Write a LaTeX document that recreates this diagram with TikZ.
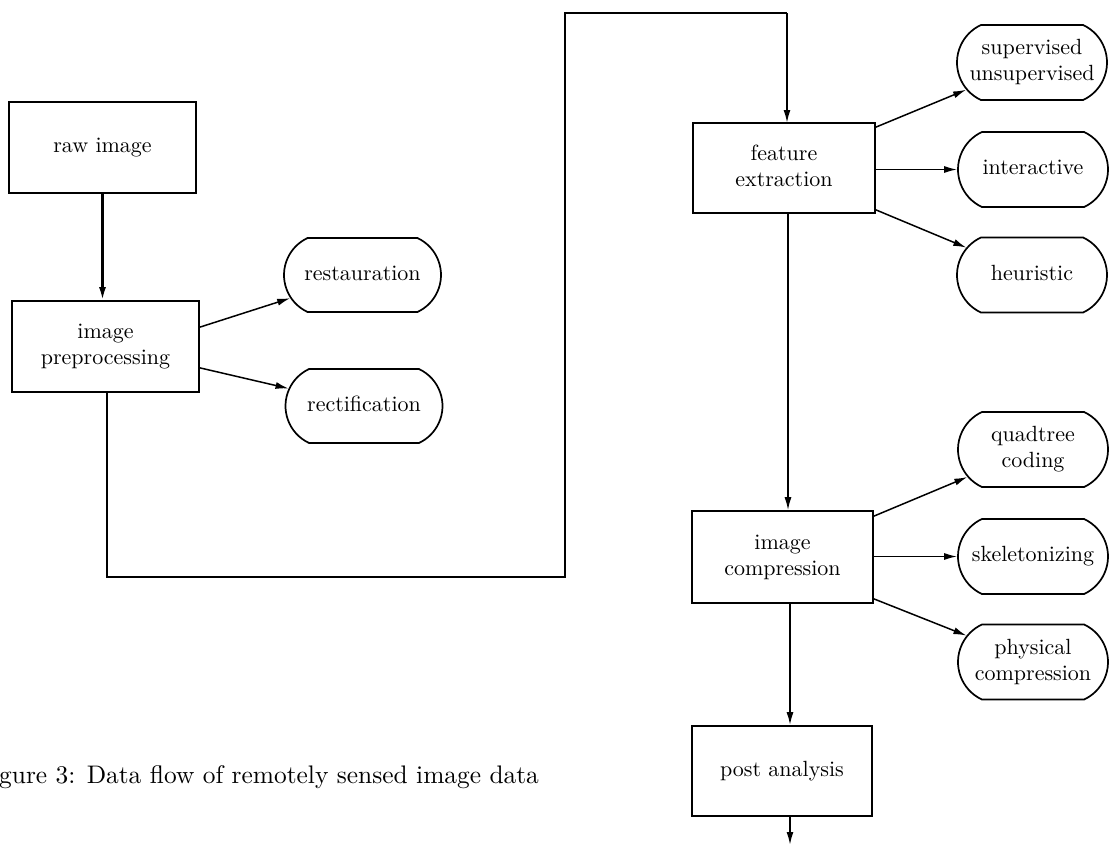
\documentclass[tikz,border=0pt]{standalone}
\usetikzlibrary{shapes.misc,arrows.meta}
\newcommand{\nodetext}[1]{\scalebox{2.2}{\begin{tabular}{@{}c@{}}#1\end{tabular}}}
\begin{document}
\begin{tikzpicture}[x=1pt,y=-1pt,
  box/.style={draw, line width=1.7pt, inner sep=0pt, align=center,
    font=\fontsize{10}{12}\selectfont},
  pill/.style={draw, line width=1.7pt, rounded rectangle, rounded rectangle arc length=130,
    inner sep=0pt, align=center, minimum width=150pt, minimum height=75pt,
    font=\fontsize{10}{12}\selectfont},
  arr/.style={line width=1.5pt, -{Latex[length=13pt,width=7pt]}},
  loopline/.style={line width=2.2pt}]
\useasboundingbox (0,0) rectangle (1109,846);
\fill[white] (0,0) rectangle (1109,846);

% left column
\node[box, minimum width=187pt, minimum height=91pt] (raw) at (102.5,147.5) {\nodetext{raw image}};
\node[box, minimum width=187pt, minimum height=91pt] (prep) at (105.5,346.5) {\nodetext{image\\preprocessing}};
\node[pill, minimum width=157pt, minimum height=74pt] (rest) at (362.5,275) {\nodetext{restauration}};
\node[pill, minimum width=157pt, minimum height=74pt] (rect) at (364,406) {\nodetext{rectification}};

% right column
\node[box, minimum width=182pt, minimum height=90pt] (fe) at (784,168) {\nodetext{feature\\extraction}};
\node[box, minimum width=181pt, minimum height=92pt] (comp) at (782.5,557) {\nodetext{image\\compression}};
\node[box, minimum width=180pt, minimum height=90pt] (post) at (782,771) {\nodetext{post analysis}};

\node[pill] (sup) at (1032,62.5) {\nodetext{supervised\\unsupervised}};
\node[pill] (inter) at (1033,169.5) {\nodetext{interactive}};
\node[pill] (heur) at (1032,275) {\nodetext{heuristic}};
\node[pill] (quad) at (1033,449.5) {\nodetext{quadtree\\coding}};
\node[pill] (skel) at (1033,556.5) {\nodetext{skeletonizing}};
\node[pill] (phys) at (1033,662) {\nodetext{physical\\compression}};

% caption
\node[anchor=base west, inner sep=0pt, font=\fontsize{10}{12}\selectfont] (cap) at (-1,783)
  {\scalebox{2.54}{gure 3: Data flow of remotely sensed image data}};

% connectors
\draw[arr, line width=2.2pt] (raw.south) -- (raw.south |- prep.north);
\draw[arr] ([yshift=-27pt]prep.north east) -- (rest);
\draw[arr] ([yshift=25pt]prep.south east) -- (rect);

\coordinate (lb) at (565,577);
\coordinate (lt) at (565,13);
\coordinate (fetop) at (787,123);
\draw[loopline] ([xshift=1.5pt]prep.south) -- ([xshift=1.5pt]prep.south |- lb) -- (lb) -- (lt) -- (lt -| fetop);
\draw[arr, line width=1.8pt] (lt -| fetop) -- (fetop);

\draw[arr] ([yshift=-5pt]fe.north east) -- (sup);
\draw[arr] (fe.east |- inter.west) -- (inter.west);
\draw[arr] ([yshift=4pt]fe.south east) -- (heur);

\draw[arr] ([xshift=4pt]fe.south) -- ([xshift=5.5pt]comp.north);
\draw[arr] ([yshift=-6pt]comp.north east) -- (quad);
\draw[arr] (comp.east |- skel.west) -- (skel.west);
\draw[arr] ([yshift=5pt]comp.south east) -- (phys);

\draw[arr, line width=1.8pt] ([xshift=7.5pt]comp.south) -- ([xshift=8pt]post.north);
\coordinate (pend) at (790,845);
\draw[arr, line width=1.8pt] ([xshift=8pt]post.south) -- (pend);
\end{tikzpicture}
\end{document}
